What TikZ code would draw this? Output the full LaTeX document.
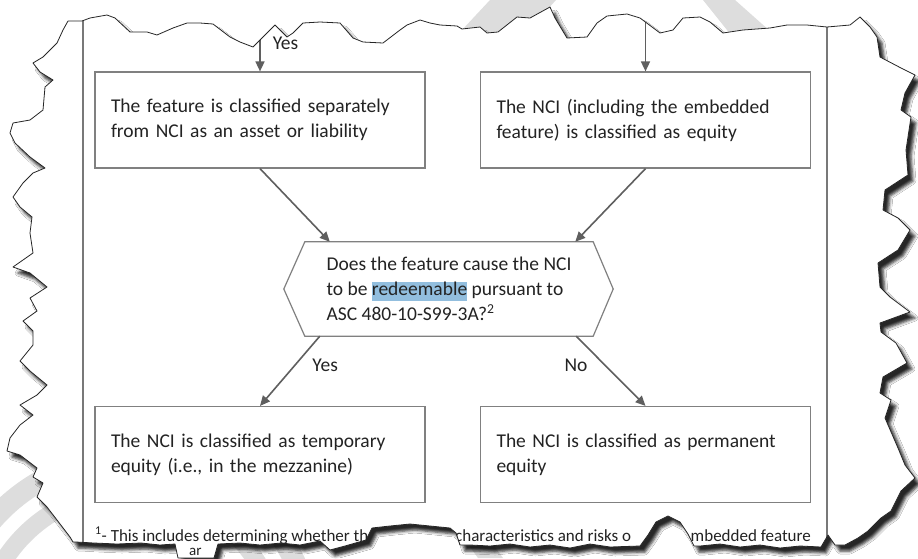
\documentclass[tikz,border=0pt]{standalone}
\usepackage{fontspec}
\setmainfont{Carlito}
\usetikzlibrary{arrows.meta,shadows.blur}

\definecolor{boxgray}{RGB}{128,128,128}
\definecolor{rulegray}{RGB}{120,120,120}
\definecolor{arrowgray}{RGB}{95,95,95}
\definecolor{markgray}{RGB}{221,221,221}
\definecolor{hlblue}{RGB}{146,190,222}
\definecolor{textdark}{RGB}{35,35,35}

\newcommand\boxfont{\fontsize{19.5}{25}\selectfont}
\newcommand\notefont{\fontsize{17}{22}\selectfont}
\newcommand\hlword[1]{\begingroup\setlength{\fboxsep}{0pt}\colorbox{hlblue}{\vrule height 14pt depth 5pt width 0pt #1}\endgroup}

% torn edge of the clipped page
\newcommand\paperedge{(68,21) -- (82,21) -- (90,18) -- (107,15) -- (115,18) -- (130,32) -- (147,32) -- (157,35) -- (173,28) -- (187,23) -- (200,23) -- (213,24) -- (230,37) -- (240,42) -- (253,47) -- (263,37) -- (275,25) -- (287,37) -- (293,33) -- (303,23) -- (320,22) -- (340,23) -- (353,38) -- (363,42) -- (383,43) -- (400,30) -- (407,25) -- (420,20) -- (430,23) -- (440,25) -- (457,26) -- (462,29) -- (480,27) -- (487,33) -- (498,32) -- (517,17) -- (530,18) -- (550,7) -- (555,18) -- (567,38) -- (587,37) -- (597,23) -- (607,16) -- (627,14) -- (640,18) -- (648,24) -- (660,33) -- (673,30) -- (683,18) -- (700,17) -- (710,22) -- (723,33) -- (743,30) -- (770,28) -- (787,25) -- (807,25) -- (827,27) -- (850,25) -- (860,17) -- (870,27) -- (877,37)
  -- (880,57) -- (901,68) -- (915,75) -- (905,93) -- (901,110) -- (911,117) -- (906,150) -- (908,175) -- (885,190) -- (883,210) -- (898,218) -- (910,230) -- (898,250) -- (878,263) -- (880,287) -- (890,297) -- (910,312) -- (880,323) -- (881,332) -- (896,343) -- (907,363) -- (883,377) -- (880,393) -- (891,400) -- (885,418) -- (898,448) -- (905,465) -- (915,478) -- (901,491) -- (891,511) -- (881,518) -- (868,531) -- (858,538) -- (845,545)
  -- (835,545) -- (828,535) -- (821,547) -- (800,546) -- (780,548) -- (760,545) -- (740,547) -- (720,544) -- (700,546) -- (694,546) -- (688,534) -- (680,522) -- (668,516) -- (656,522) -- (648,535) -- (640,546) -- (610,547) -- (590,544) -- (570,548) -- (550,545) -- (530,547) -- (510,544) -- (490,546) -- (470,545) -- (460,545) -- (456,533) -- (450,528) -- (430,526) -- (410,524) -- (390,526) -- (372,528) -- (366,540) -- (345,546) -- (330,550) -- (320,541) -- (300,545) -- (281,543) -- (260,545) -- (240,543) -- (218,544) -- (214,558) -- (178,558) -- (175,544) -- (160,545) -- (141,543) -- (117,544) -- (94,543) -- (76,542)
  -- (73,542) -- (70,537) -- (57,520) -- (47,507) -- (37,497) -- (43,483) -- (33,477) -- (37,468) -- (20,455) -- (7,451) -- (10,438) -- (20,425) -- (33,415) -- (20,405) -- (37,395) -- (47,385) -- (30,371) -- (20,361) -- (33,345) -- (33,331) -- (23,321) -- (37,311) -- (30,298) -- (47,287) -- (30,273) -- (13,267) -- (33,253) -- (30,233) -- (32,217) -- (20,207) -- (13,197) -- (23,183) -- (33,173) -- (45,168) -- (30,157) -- (15,143) -- (10,133) -- (13,123) -- (30,120) -- (43,110) -- (45,87) -- (53,80) -- (40,72) -- (33,63) -- (43,57) -- (57,43) -- (63,30) -- cycle}

\tikzset{
  flowbox/.style={draw=boxgray, line width=1.2pt, minimum width=330pt, minimum height=96pt,
    text width=298pt, inner xsep=16pt, align=left, font=\boxfont, text=textdark},
  question/.style={minimum width=288pt, minimum height=94pt, inner xsep=17pt,
    align=left, font=\boxfont, text=textdark},
  flowarrow/.style={draw=arrowgray, line width=1.6pt, -{Triangle[length=10pt,width=9pt]}},
  answer/.style={font=\boxfont, text=textdark, inner sep=0pt},
  footnote/.style={inner sep=0pt, font=\notefont, text=textdark},
}

\begin{document}
\begin{tikzpicture}[x=1pt, y=-1pt]
  \useasboundingbox (0,0) rectangle (918,558);
  \fill[white] (0,0) rectangle (918,558);

  % Watermark behind the page
  \fill[markgray] (490,0) -- (556,0) -- (515,45) -- (448,45) -- cycle;
  \fill[markgray] (703,0) -- (735,0) -- (780,40) -- (735,40) -- cycle;
  \fill[markgray, even odd rule] (130,640) circle (193) (130,640) circle (172);
  \fill[markgray, even odd rule] (130,640) circle (158) (130,640) circle (140);
  \fill[markgray] (465,540) -- (490,540) -- (503,558) -- (478,558) -- cycle;

  % The page
  \path[fill=white, blur shadow={shadow xshift=5pt, shadow yshift=-6pt,
    shadow blur radius=3pt, shadow opacity=85}] \paperedge;

  \begin{scope}
    \clip \paperedge;
    % Side rules
    \draw[rulegray, line width=2pt] (83,0) -- (83,558);
    \draw[rulegray, line width=2pt] (827,0) -- (827,558);

    % The boxes
    \node[flowbox] (sep) at (260,120)
      {The feature is classified separately\\from NCI as an asset or liability};
    \node[flowbox] (equity) at (645.5,120)
      {The NCI (including the embedded\\feature) is classified as equity};
    \node[question] (redeem) at (449,289)
      {Does the feature cause the NCI\\to be \hlword{redeemable} pursuant to\\ASC 480-10-S99-3A?\textsuperscript{2}};
    \draw[boxgray, line width=1.2pt] (redeem.north west) -- (redeem.north east)
      -- ([xshift=20pt]redeem.east) -- (redeem.south east) -- (redeem.south west)
      -- ([xshift=-21pt]redeem.west) -- cycle;
    \node[flowbox] (temp) at (260,454.5)
      {The NCI is classified as temporary\\equity (i.e., in the mezzanine)};
    \node[flowbox] (perm) at (645.5,454.5)
      {The NCI is classified as permanent\\equity};

    % The arrows
    \coordinate (inleft) at (260,10);
    \coordinate (inright) at (645.5,10);
    \draw[flowarrow] (inleft) -- node[answer, pos=.55, anchor=west, xshift=12pt] {Yes} (sep.north);
    \draw[flowarrow] (inright) -- (equity.north);
    \draw[flowarrow] (sep.south) -- ([xshift=25pt]redeem.north west);
    \draw[flowarrow] (equity.south) -- ([xshift=-18pt]redeem.north east);
    \draw[flowarrow] ([xshift=15pt]redeem.south west)
      -- node[answer, pos=.42, anchor=west, xshift=17pt] {Yes} (temp.north);
    \draw[flowarrow] ([xshift=-17pt]redeem.south east)
      -- node[answer, pos=.42, anchor=east, xshift=-17pt] {No} (perm.north);

    % Footnote, what is left of it between the tears
    \node[footnote, anchor=base west] (note) at (95,541)
      {\textsuperscript{1}- This includes determining whether th};
    \node[footnote, anchor=base west] (notemid) at (455,541)
      {characteristics and risks o};
    \node[footnote, anchor=base east] (noteend) at (811,541)
      {mbedded feature};
    \node[footnote, anchor=base west, font=\fontsize{15}{18}\selectfont] (notetail) at (189,555) {ar};
  \end{scope}

  % Torn edge
  \draw[black!85, line width=0.8pt, line join=round] \paperedge;
\end{tikzpicture}
\end{document}
